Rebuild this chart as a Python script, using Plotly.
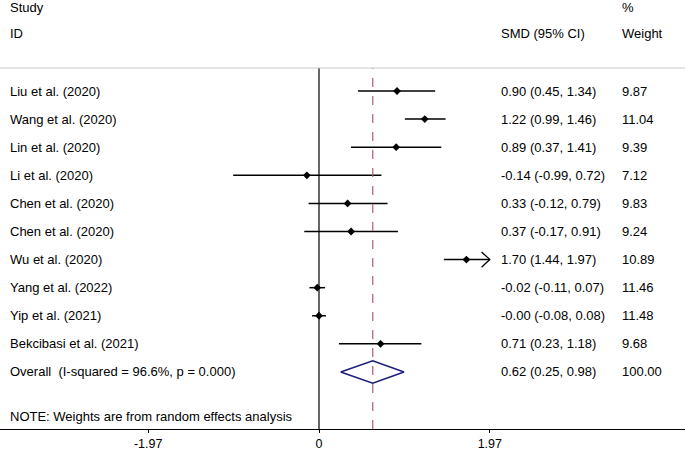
import plotly.graph_objects as go

studies = ["Liu et al. (2020)", "Wang et al. (2020)", "Lin et al. (2020)", "Li et al. (2020)",
           "Chen et al. (2020)", "Chen et al. (2020)", "Wu et al. (2020)", "Yang et al. (2022)",
           "Yip et al. (2021)", "Bekcibasi et al. (2021)"]
smd = [0.90, 1.22, 0.89, -0.14, 0.33, 0.37, 1.70, -0.02, -0.00, 0.71]
lower = [0.45, 0.99, 0.37, -0.99, -0.12, -0.17, 1.44, -0.11, -0.08, 0.23]
upper = [1.34, 1.46, 1.41, 0.72, 0.79, 0.91, 1.97, 0.07, 0.08, 1.18]
ci_text = ["0.90 (0.45, 1.34)", "1.22 (0.99, 1.46)", "0.89 (0.37, 1.41)", "-0.14 (-0.99, 0.72)",
           "0.33 (-0.12, 0.79)", "0.37 (-0.17, 0.91)", "1.70 (1.44, 1.97)", "-0.02 (-0.11, 0.07)",
           "-0.00 (-0.08, 0.08)", "0.71 (0.23, 1.18)"]
weights = ["9.87", "11.04", "9.39", "7.12", "9.83", "9.24", "10.89", "11.46", "11.48", "9.68"]
overall_label = "Overall\u00a0\u00a0(I-squared = 96.6%, p = 0.000)"
overall_smd = 0.62
overall_lower = 0.25
overall_upper = 0.98
overall_text = "0.62 (0.25, 0.98)"
overall_weight = "100.00"
axis_max = 1.97
tick_vals = [-1.97, 0, 1.97]
tick_text = ["-1.97", "0", "1.97"]

FONT = "Liberation Sans, Arial, Helvetica, sans-serif"
FS = 13
n = len(studies)
rows = list(range(n))
y_over = n
y_note = n + 1.57

X0, X1 = -3.679, 4.221
Y_TOP, Y_BOT = -0.819, 12.03
T_MARGIN, B_MARGIN = 68, 22
PLOT_H = 451 - T_MARGIN - B_MARGIN

fig = go.Figure()

for i in rows:
    fig.add_trace(go.Scatter(x=[lower[i], min(upper[i], axis_max)], y=[i, i], mode="lines",
                             line=dict(color="black", width=1.5), showlegend=False,
                             hoverinfo="skip"))
    if upper[i] >= axis_max:
        dx, dy = 0.095, 0.27
        fig.add_trace(go.Scatter(x=[axis_max - dx, axis_max, axis_max - dx],
                                 y=[i - dy, i, i + dy], mode="lines",
                                 line=dict(color="black", width=1.3), showlegend=False,
                                 hoverinfo="skip"))

fig.add_trace(go.Scatter(x=smd, y=rows, mode="markers",
                         marker=dict(symbol="diamond", size=6, color="black"),
                         showlegend=False, hoverinfo="skip"))

h = 0.4
fig.add_trace(go.Scatter(
    x=[overall_lower, overall_smd, overall_upper, overall_smd, overall_lower],
    y=[y_over, y_over - h, y_over, y_over + h, y_over], mode="lines",
    line=dict(color="#1c1c7c", width=1.5), showlegend=False, hoverinfo="skip"))

shapes = [
    dict(type="line", xref="x", yref="paper", x0=0, x1=0, y0=0, y1=1,
         line=dict(color="black", width=1.2)),
    dict(type="line", xref="x", yref="paper", x0=overall_smd, x1=overall_smd, y0=0, y1=1,
         line=dict(color="#b0606c", width=1.2, dash="dash")),
    dict(type="line", xref="paper", yref="paper", x0=0, x1=1, y0=1, y1=1,
         line=dict(color="#c8c8c8", width=1.2)),
]

ann = []
def txt(x, y, s, yref="y"):
    ann.append(dict(x=x, y=y, xref="paper", yref=yref, text=s, showarrow=False,
                    xanchor="left", yanchor="middle",
                    font=dict(family=FONT, size=FS, color="black")))

x_study = 8 / 685
x_ci = 499 / 685
x_w = 620 / 685
for i in rows:
    txt(x_study, i, studies[i])
    txt(x_ci, i, ci_text[i])
    txt(x_w, i, weights[i])
txt(x_study, y_over, overall_label)
txt(x_ci, y_over, overall_text)
txt(x_w, y_over, overall_weight)
txt(x_study, y_note, "NOTE: Weights are from random effects analysis")

def ptop(py):
    return 1 + (T_MARGIN - py) / PLOT_H
txt(x_study, ptop(7), "Study", yref="paper")
txt(x_study, ptop(33), "ID", yref="paper")
txt(x_ci, ptop(33), "SMD (95% CI)", yref="paper")
txt(x_w, ptop(7), "%", yref="paper")
txt(x_w, ptop(33), "Weight", yref="paper")

fig.update_layout(
    width=685, height=451,
    margin=dict(l=0, r=0, t=T_MARGIN, b=B_MARGIN, autoexpand=False),
    plot_bgcolor="white", paper_bgcolor="white",
    shapes=shapes, annotations=ann,
    xaxis=dict(range=[X0, X1], tickvals=tick_vals, ticktext=tick_text, showgrid=False,
               zeroline=False, showline=True, linecolor="black", linewidth=1.2,
               ticks="outside", ticklen=3, tickcolor="black", tickwidth=1,
               tickfont=dict(family=FONT, size=12.5, color="black"), automargin=False),
    yaxis=dict(range=[Y_BOT, Y_TOP], visible=False, showgrid=False, zeroline=False),
)

fig.write_html("out.html", config={"displayModeBar": False},
               post_script="document.body.style.margin='0px';")
